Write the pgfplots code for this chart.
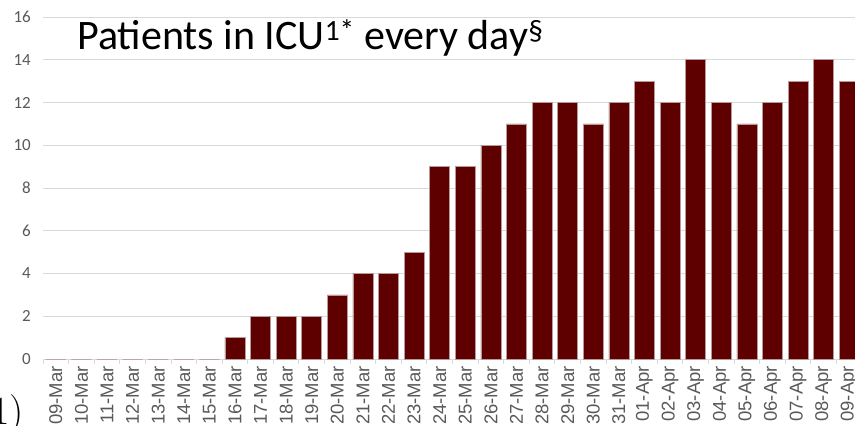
\documentclass[border=0pt]{standalone}
\usepackage{fontspec}
\setmainfont{Carlito}
\newfontfamily\labelfont{Liberation Sans}
\usepackage{pgfplots}
\pgfplotsset{compat=1.18}
\definecolor{barred}{HTML}{5E0000}
\definecolor{barline}{HTML}{B89A9A}
\definecolor{tickgray}{HTML}{595959}
\definecolor{gridgray}{HTML}{D9D9D9}
\begin{document}
\begin{tikzpicture}[x=1pt,y=1pt]
\useasboundingbox (0,0) rectangle (855,426);
\clip (0,0) rectangle (855,426);
\begin{axis}[
  at={(43pt,67pt)}, anchor=south west,
  scale only axis, width=819pt, height=342pt,
  xmin=-0.5, xmax=31.5, ymin=0, ymax=16,
  ytick={0,2,...,16},
  ymajorgrids, grid style={gridgray, line width=0.9pt},
  axis x line*=bottom, axis y line*=left,
  y axis line style={draw=none},
  ytick style={draw=none},
  x axis line style={gridgray, line width=0.9pt, -},
  xtick={0,...,31},
  minor xtick={-0.5,0.5,...,31.5},
  xticklabels={09-Mar,10-Mar,11-Mar,12-Mar,13-Mar,14-Mar,15-Mar,16-Mar,17-Mar,18-Mar,19-Mar,20-Mar,21-Mar,22-Mar,23-Mar,24-Mar,25-Mar,26-Mar,27-Mar,28-Mar,29-Mar,30-Mar,31-Mar,01-Apr,02-Apr,03-Apr,04-Apr,05-Apr,06-Apr,07-Apr,08-Apr,09-Apr},
  major x tick style={draw=none},
  minor x tick style={gridgray, line width=0.9pt},
  minor tick length=5pt, major tick length=0pt,
  xtick align=outside,
  xticklabel shift=7pt,
  xticklabel style={rotate=90, anchor=east, font=\labelfont\fontsize{18.5}{18.5}\selectfont, text=tickgray, inner sep=0pt},
  yticklabel style={font=\fontsize{17}{17}\selectfont, text=tickgray, anchor=east, inner sep=0pt, xshift=-12pt},
  /pgf/number format/assume math mode=true,
  ybar, bar width=20pt,
]
\addplot[fill=barred, draw=barline, line width=0.6pt] coordinates {
(0,0) (1,0) (2,0) (3,0) (4,0) (5,0) (6,0) (7,1) (8,2) (9,2) (10,2) (11,3) (12,4) (13,4) (14,5) (15,9) (16,9) (17,10) (18,11) (19,12) (20,12) (21,11) (22,12) (23,13) (24,12) (25,14) (26,12) (27,11) (28,12) (29,13) (30,14) (31,13)
};
\end{axis}
\node[anchor=base west, inner sep=0pt, font=\fontsize{42}{42}\selectfont] at (77,376) {Patients in ICU\textsuperscript{1*} every day\textsuperscript{§}};
\node[anchor=base west, inner sep=0pt, font=\fontfamily{lmr}\fontsize{40}{40}\selectfont] at (-9,1) {1)};
\end{tikzpicture}
\end{document}
